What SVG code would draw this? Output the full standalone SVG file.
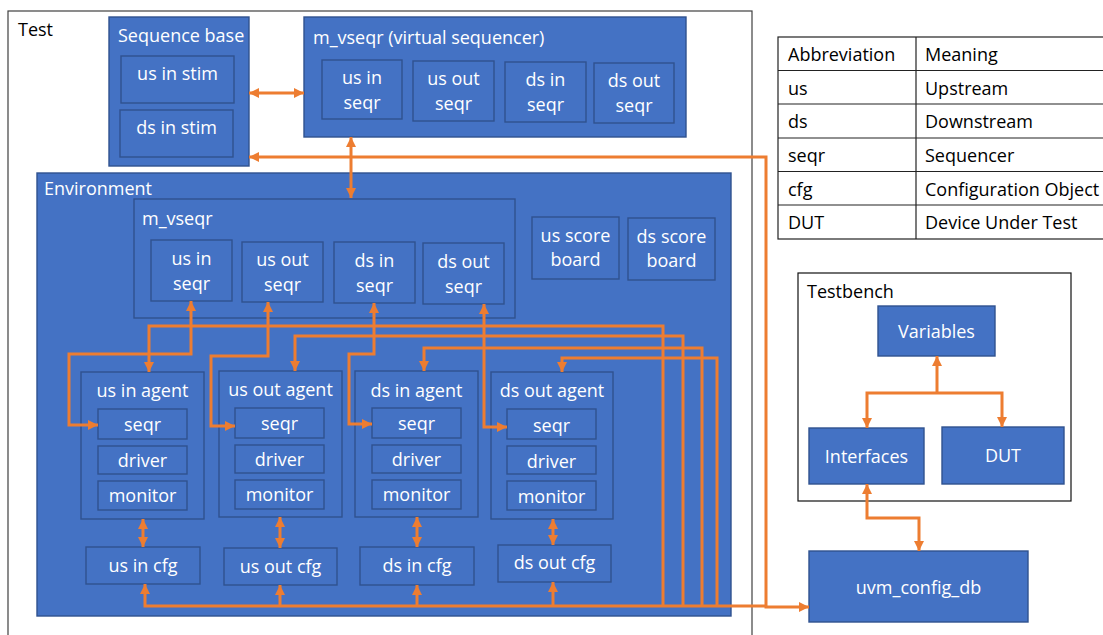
<svg xmlns="http://www.w3.org/2000/svg" width="1103" height="635" viewBox="0 0 1103 635">
  <style>
    .frame { fill: #ffffff; stroke: #404040; stroke-width: 1.2; }
    .box { fill: #4472C4; stroke: #2F528F; stroke-width: 1.4; }
    .lbl { font-family: "Open Sans", "Noto Sans", sans-serif; font-size: 18px; fill: #ffffff; dominant-baseline: central; }
    .mid { text-anchor: middle; }
    .dark { fill: #000000; }
    .tcell { fill: none; stroke: #222222; stroke-width: 1.2; }
    .wire { fill: none; stroke: #ED7D31; stroke-width: 3; }
    .both { marker-start: url(#ah); marker-end: url(#ah); }
    .end { marker-end: url(#ah); }
    .start { marker-start: url(#ah); }
  </style>
  <defs>
    <marker id="ah" viewBox="0 0 10 10" refX="10" refY="5" markerWidth="11" markerHeight="10" markerUnits="userSpaceOnUse" orient="auto-start-reverse">
      <path d="M0,0 L10,5 L0,10 z" fill="#ED7D31"/>
    </marker>
  </defs>

  <rect width="1103" height="635" fill="#ffffff"/>

  <!-- Test container -->
  <g id="test">
    <rect class="frame" x="8" y="11" width="744" height="640"/>
    <text class="lbl dark" x="18" y="29">Test</text>
  </g>

  <!-- Sequence base -->
  <g id="sequence-base">
    <rect class="box" x="109" y="17" width="140" height="149"/>
    <text class="lbl" x="118" y="35">Sequence base</text>
    <rect class="box" x="121" y="56" width="113" height="47"/>
    <text class="lbl mid" x="177.5" y="73">us in stim</text>
    <rect class="box" x="120" y="110" width="113" height="47"/>
    <text class="lbl mid" x="176.5" y="127">ds in stim</text>
  </g>

  <!-- Virtual sequencer in the test -->
  <g id="test-vseqr">
    <rect class="box" x="304" y="17" width="382" height="120"/>
    <text class="lbl" x="313" y="37">m_vseqr (virtual sequencer)</text>
    <rect class="box" x="322" y="60" width="80" height="59"/>
    <text class="lbl mid" x="362" y="77">us in</text>
    <text class="lbl mid" x="362" y="102">seqr</text>
    <rect class="box" x="413" y="61" width="81" height="60"/>
    <text class="lbl mid" x="453.5" y="78">us out</text>
    <text class="lbl mid" x="453.5" y="103">seqr</text>
    <rect class="box" x="505" y="62" width="81" height="60"/>
    <text class="lbl mid" x="545.5" y="79">ds in</text>
    <text class="lbl mid" x="545.5" y="104">seqr</text>
    <rect class="box" x="594" y="63" width="80" height="60"/>
    <text class="lbl mid" x="634" y="80">ds out</text>
    <text class="lbl mid" x="634" y="105">seqr</text>
  </g>

  <!-- Environment -->
  <g id="environment">
    <rect class="box" x="37" y="173" width="694" height="443"/>
    <text class="lbl" x="44" y="188">Environment</text>
  </g>

  <g id="env-vseqr">
    <rect class="box" x="134" y="199" width="381" height="119"/>
    <text class="lbl" x="142" y="218">m_vseqr</text>
    <rect class="box" x="151" y="240" width="81" height="61"/>
    <text class="lbl mid" x="191.5" y="258">us in</text>
    <text class="lbl mid" x="191.5" y="283">seqr</text>
    <rect class="box" x="242" y="242" width="81" height="60"/>
    <text class="lbl mid" x="282.5" y="259">us out</text>
    <text class="lbl mid" x="282.5" y="284">seqr</text>
    <rect class="box" x="334" y="242" width="81" height="61"/>
    <text class="lbl mid" x="374.5" y="260">ds in</text>
    <text class="lbl mid" x="374.5" y="285">seqr</text>
    <rect class="box" x="423" y="243" width="81" height="61"/>
    <text class="lbl mid" x="463.5" y="261">ds out</text>
    <text class="lbl mid" x="463.5" y="286">seqr</text>
  </g>

  <g id="us-scoreboard">
    <rect class="box" x="532" y="217" width="87" height="62"/>
    <text class="lbl mid" x="575.5" y="235">us score</text>
    <text class="lbl mid" x="575.5" y="259">board</text>
  </g>
  <g id="ds-scoreboard">
    <rect class="box" x="628" y="218" width="87" height="62"/>
    <text class="lbl mid" x="671.5" y="236">ds score</text>
    <text class="lbl mid" x="671.5" y="260">board</text>
  </g>

  <!-- Agents -->
  <g id="us-in-agent">
    <rect class="box" x="81" y="372" width="123" height="147"/>
    <text class="lbl mid" x="142.5" y="390">us in agent</text>
    <rect class="box" x="98" y="409" width="89" height="30"/>
    <text class="lbl mid" x="142.5" y="424">seqr</text>
    <rect class="box" x="98" y="446" width="89" height="28"/>
    <text class="lbl mid" x="142.5" y="460">driver</text>
    <rect class="box" x="98" y="481" width="89" height="29"/>
    <text class="lbl mid" x="142.5" y="495">monitor</text>
  </g>
  <g id="us-out-agent">
    <rect class="box" x="219" y="371" width="123" height="146"/>
    <text class="lbl mid" x="280.5" y="389">us out agent</text>
    <rect class="box" x="235" y="408" width="89" height="30"/>
    <text class="lbl mid" x="279.5" y="423">seqr</text>
    <rect class="box" x="235" y="445" width="89" height="28"/>
    <text class="lbl mid" x="279.5" y="459">driver</text>
    <rect class="box" x="235" y="480" width="89" height="29"/>
    <text class="lbl mid" x="279.5" y="494">monitor</text>
  </g>
  <g id="ds-in-agent">
    <rect class="box" x="355" y="371" width="123" height="146"/>
    <text class="lbl mid" x="416.5" y="390">ds in agent</text>
    <rect class="box" x="372" y="408" width="89" height="30"/>
    <text class="lbl mid" x="416.5" y="423">seqr</text>
    <rect class="box" x="372" y="445" width="89" height="28"/>
    <text class="lbl mid" x="416.5" y="459">driver</text>
    <rect class="box" x="372" y="480" width="89" height="29"/>
    <text class="lbl mid" x="416.5" y="494">monitor</text>
  </g>
  <g id="ds-out-agent">
    <rect class="box" x="491" y="372" width="122" height="147"/>
    <text class="lbl mid" x="552" y="390">ds out agent</text>
    <rect class="box" x="507" y="409" width="89" height="30"/>
    <text class="lbl mid" x="551.5" y="425">seqr</text>
    <rect class="box" x="507" y="446" width="89" height="28"/>
    <text class="lbl mid" x="551.5" y="461">driver</text>
    <rect class="box" x="507" y="481" width="89" height="29"/>
    <text class="lbl mid" x="551.5" y="496">monitor</text>
  </g>

  <!-- Configuration objects -->
  <g id="us-in-cfg">
    <rect class="box" x="86" y="547" width="114" height="37"/>
    <text class="lbl mid" x="143" y="565">us in cfg</text>
  </g>
  <g id="us-out-cfg">
    <rect class="box" x="224" y="548" width="113" height="37"/>
    <text class="lbl mid" x="280.5" y="566">us out cfg</text>
  </g>
  <g id="ds-in-cfg">
    <rect class="box" x="360" y="547" width="114" height="38"/>
    <text class="lbl mid" x="417" y="565">ds in cfg</text>
  </g>
  <g id="ds-out-cfg">
    <rect class="box" x="498" y="545" width="113" height="37"/>
    <text class="lbl mid" x="554.5" y="562">ds out cfg</text>
  </g>

  <!-- Abbreviation table -->
  <g id="abbreviations">
    <rect class="tcell" x="778" y="37" width="340" height="202"/>
    <line class="tcell" x1="916" y1="37" x2="916" y2="239"/>
    <line class="tcell" x1="778" y1="70.5" x2="1118" y2="70.5"/>
    <line class="tcell" x1="778" y1="104" x2="1118" y2="104"/>
    <line class="tcell" x1="778" y1="138" x2="1118" y2="138"/>
    <line class="tcell" x1="778" y1="171.5" x2="1118" y2="171.5"/>
    <line class="tcell" x1="778" y1="205" x2="1118" y2="205"/>
    <text class="lbl dark" x="788" y="54">Abbreviation</text>
    <text class="lbl dark" x="925" y="54">Meaning</text>
    <text class="lbl dark" x="788" y="87.5">us</text>
    <text class="lbl dark" x="925" y="87.5">Upstream</text>
    <text class="lbl dark" x="788" y="121">ds</text>
    <text class="lbl dark" x="925" y="121">Downstream</text>
    <text class="lbl dark" x="788" y="155">seqr</text>
    <text class="lbl dark" x="925" y="155">Sequencer</text>
    <text class="lbl dark" x="788" y="188.5">cfg</text>
    <text class="lbl dark" x="925" y="188.5">Configuration Object</text>
    <text class="lbl dark" x="788" y="222">DUT</text>
    <text class="lbl dark" x="925" y="222">Device Under Test</text>
  </g>

  <!-- Testbench -->
  <g id="testbench">
    <rect class="frame" x="798" y="273" width="273" height="228" style="stroke:#111111"/>
    <text class="lbl dark" x="807" y="291">Testbench</text>
  </g>
  <g id="variables">
    <rect class="box" x="878" y="306" width="117" height="50"/>
    <text class="lbl mid" x="936.5" y="331">Variables</text>
  </g>
  <g id="interfaces">
    <rect class="box" x="809" y="428" width="115" height="56"/>
    <text class="lbl mid" x="866.5" y="456">Interfaces</text>
  </g>
  <g id="dut">
    <rect class="box" x="942" y="427" width="122" height="57"/>
    <text class="lbl mid" x="1003" y="455">DUT</text>
  </g>
  <g id="uvm-config-db">
    <rect class="box" x="809" y="551" width="219" height="71"/>
    <text class="lbl mid" x="918.5" y="587">uvm_config_db</text>
  </g>

  <!-- Connectors -->
  <g id="connectors">
    <path class="wire both" d="M249,93 H304"/>
    <path class="wire both" d="M249,157 H766 V607 H809"/>
    <path class="wire both" d="M351,137 V198"/>

    <!-- virtual sequencer to agent sequencers -->
    <path class="wire both" d="M191,301 V354 H69 V425 H98"/>
    <path class="wire both" d="M268,302 V356 H211 V426 H235"/>
    <path class="wire both" d="M374,303 V354 H349 V424 H372"/>
    <path class="wire both" d="M484,304 V427 H507"/>

    <!-- config bus to agents -->
    <path class="wire end" d="M663,606 V326 H149 V372"/>
    <path class="wire end" d="M683,606 V336 H295 V371"/>
    <path class="wire end" d="M702,606 V348 H424 V371"/>
    <path class="wire end" d="M717,606 V358 H562 V372"/>

    <!-- config bus to cfg objects -->
    <path class="wire start" d="M145,584 V606 H766"/>
    <path class="wire end" d="M280,606 V585"/>
    <path class="wire end" d="M417,606 V585"/>
    <path class="wire end" d="M553,606 V582"/>

    <!-- agents to cfg objects -->
    <path class="wire both" d="M143,519 V547"/>
    <path class="wire both" d="M280,517 V548"/>
    <path class="wire both" d="M417,517 V547"/>
    <path class="wire both" d="M553,519 V545"/>

    <!-- testbench -->
    <path class="wire start" d="M937,356 V393"/>
    <path class="wire both" d="M867,428 V393 H1002 V427"/>
    <path class="wire both" d="M867,484 V518 H919 V551"/>
  </g>
</svg>
